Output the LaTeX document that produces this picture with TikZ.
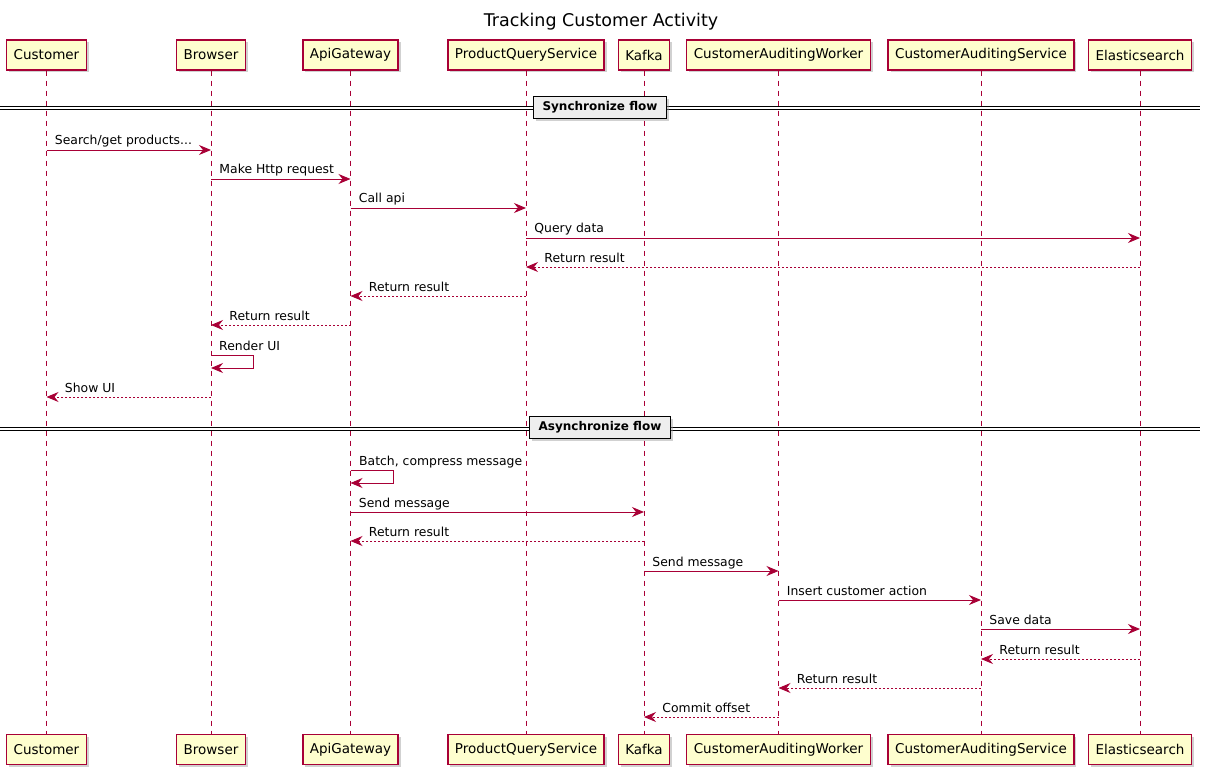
\documentclass[tikz,border=0pt]{standalone}
\usepackage{fontspec}
\setmainfont{DejaVu Sans}
\usetikzlibrary{arrows.meta,shadows}
\definecolor{umlred}{HTML}{A80036}
\definecolor{umlfill}{HTML}{FEFECE}
\definecolor{sepfill}{HTML}{EEEEEE}
\newcommand{\msgfont}{\fontsize{12.4}{14}\selectfont}
\tikzset{
	actorbox/.style={draw=umlred, fill=umlfill, line width=1.4pt, minimum height=30pt, inner xsep=7pt,
		font=\fontsize{13.5}{16}\selectfont, drop shadow={shadow xshift=2.5pt, shadow yshift=-2.5pt, fill=black!40, opacity=.45}},
	lifeline/.style={draw=umlred, line width=0.8pt, dash pattern=on 5pt off 5pt},
	msg/.style={draw=umlred, line width=0.9pt, -{Stealth[length=12pt, width=10pt, inset=4pt]}},
	reply/.style={msg, dash pattern=on 2pt off 2pt},
	lbl/.style={font=\msgfont, inner sep=0pt, anchor=base west, text=black},
	divider/.style={draw=black, line width=1pt},
	dividerbox/.style={draw=black, fill=sepfill, line width=1.5pt, minimum height=22pt, inner xsep=9pt,
		font=\bfseries\fontsize{12}{14}\selectfont, drop shadow={shadow xshift=2.5pt, shadow yshift=-2.5pt, fill=black!40, opacity=.45}}
}
\begin{document}
\begin{tikzpicture}[x=1pt, y=-1pt]
		%%%%% START %%%%%
		\useasboundingbox (0, 0) rectangle (1205, 778);
		
		\node (title) at (601, 22) {\fontsize{17.5}{20}\selectfont Tracking Customer Activity};
		
		% participants, top and bottom
		\node[actorbox] (customer) at (46.5, 55) {Customer};
		\node[actorbox] (browser) at (211, 55) {Browser};
		\node[actorbox] (gateway) at (350.5, 55) {ApiGateway};
		\node[actorbox] (pqs) at (526, 55) {ProductQueryService};
		\node[actorbox] (kafka) at (644, 55) {Kafka};
		\node[actorbox] (worker) at (778.5, 55) {CustomerAuditingWorker};
		\node[actorbox] (auditsvc) at (981, 55) {CustomerAuditingService};
		\node[actorbox] (elastic) at (1140, 55) {Elasticsearch};
		
		\node[actorbox] (customerB) at (46.5, 749.5) {Customer};
		\node[actorbox] (browserB) at (211, 749.5) {Browser};
		\node[actorbox] (gatewayB) at (350.5, 749.5) {ApiGateway};
		\node[actorbox] (pqsB) at (526, 749.5) {ProductQueryService};
		\node[actorbox] (kafkaB) at (644, 749.5) {Kafka};
		\node[actorbox] (workerB) at (778.5, 749.5) {CustomerAuditingWorker};
		\node[actorbox] (auditsvcB) at (981, 749.5) {CustomerAuditingService};
		\node[actorbox] (elasticB) at (1140, 749.5) {Elasticsearch};
		
		\foreach \p in {customer, browser, gateway, pqs, kafka, worker, auditsvc, elastic}
			\draw[lifeline] (\p.south) -- (\p B.north);
		
		% synchronize flow
		\draw[divider] (0, 107) -- (1200, 107);
		\draw[divider] (0, 110) -- (1200, 110);
		\node[dividerbox] (syncflow) at (600, 107.5) {Synchronize flow};
		
		\draw[msg] (customer |- 0,150) -- (browser |- 0,150) node[lbl, at start, xshift=8pt, yshift=5pt] {Search/get products...};
		\draw[msg] (browser |- 0,179) -- (gateway |- 0,179) node[lbl, at start, xshift=8pt, yshift=5pt] {Make Http request};
		\draw[msg] (gateway |- 0,208) -- (pqs |- 0,208) node[lbl, at start, xshift=8pt, yshift=5pt] {Call api};
		\draw[msg] (pqs |- 0,238) -- (elastic |- 0,238) node[lbl, at start, xshift=8pt, yshift=5pt] {Query data};
		\draw[reply] (elastic |- 0,267) -- (pqs |- 0,267) node[lbl, at end, xshift=18pt, yshift=5pt] {Return result};
		\draw[reply] (pqs |- 0,296) -- (gateway |- 0,296) node[lbl, at end, xshift=18pt, yshift=5pt] {Return result};
		\draw[reply] (gateway |- 0,325) -- (browser |- 0,325) node[lbl, at end, xshift=18pt, yshift=5pt] {Return result};
		\draw[msg] (browser |- 0,355) -- ++(42, 0) |- (browser |- 0,368);
		\node[lbl] (renderui) at (219, 350) {Render UI};
		\draw[reply] (browser |- 0,397) -- (customer |- 0,397) node[lbl, at end, xshift=18pt, yshift=5pt] {Show UI};
		
		% asynchronize flow
		\draw[divider] (0, 427) -- (1200, 427);
		\draw[divider] (0, 430) -- (1200, 430);
		\node[dividerbox] (asyncflow) at (600, 427.5) {Asynchronize flow};
		
		\draw[msg] (gateway |- 0,470) -- ++(43, 0) |- (gateway |- 0,483);
		\node[lbl] (batch) at (359, 465) {Batch, compress message};
		\draw[msg] (gateway |- 0,512) -- (kafka |- 0,512) node[lbl, at start, xshift=8pt, yshift=5pt] {Send message};
		\draw[reply] (kafka |- 0,541) -- (gateway |- 0,541) node[lbl, at end, xshift=18pt, yshift=5pt] {Return result};
		\draw[msg] (kafka |- 0,571) -- (worker |- 0,571) node[lbl, at start, xshift=8pt, yshift=5pt] {Send message};
		\draw[msg] (worker |- 0,600) -- (auditsvc |- 0,600) node[lbl, at start, xshift=8pt, yshift=5pt] {Insert customer action};
		\draw[msg] (auditsvc |- 0,629) -- (elastic |- 0,629) node[lbl, at start, xshift=8pt, yshift=5pt] {Save data};
		\draw[reply] (elastic |- 0,659) -- (auditsvc |- 0,659) node[lbl, at end, xshift=18pt, yshift=5pt] {Return result};
		\draw[reply] (auditsvc |- 0,688) -- (worker |- 0,688) node[lbl, at end, xshift=18pt, yshift=5pt] {Return result};
		\draw[reply] (worker |- 0,717) -- (kafka |- 0,717) node[lbl, at end, xshift=18pt, yshift=5pt] {Commit offset};
		
		%%%%% END %%%%%
\end{tikzpicture}
\end{document}
